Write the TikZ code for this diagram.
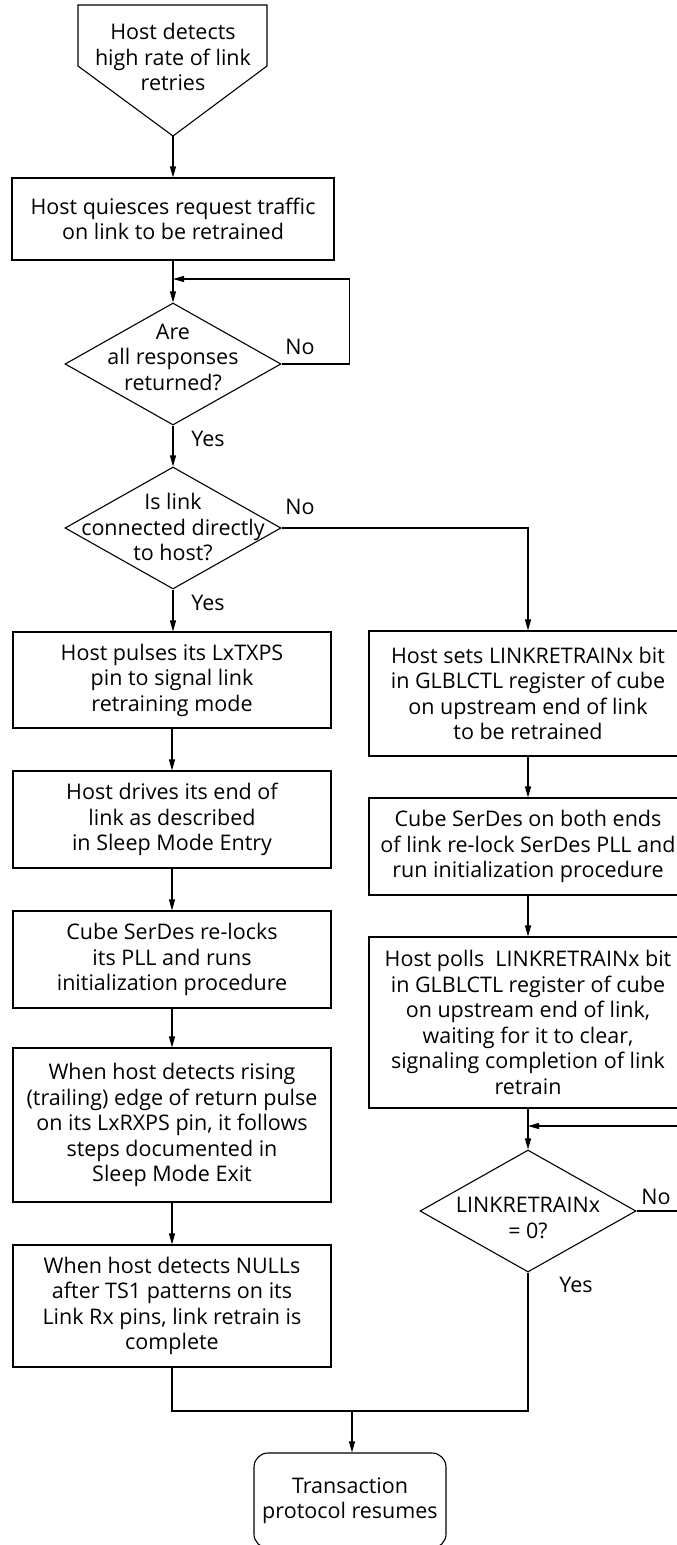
\documentclass[tikz,border=0pt]{standalone}
\usepackage{fontspec}
\setmainfont{Open Sans}
\usetikzlibrary{shapes.geometric,arrows.meta,calc}

\begin{document}
\begin{tikzpicture}[x=1pt,y=-1pt,
  line width=1.1pt,
  every node/.style={font=\fontsize{21.5}{25.5}\selectfont},
  stepbox/.style={draw, rectangle, minimum width=318pt, align=center, inner sep=0pt},
  decision/.style={draw, diamond, minimum width=216pt, minimum height=122pt, inner sep=0pt},
  txt/.style={align=center, inner sep=0pt},
  lbl/.style={inner sep=0pt},
  arr/.style={-{Triangle[length=11pt,width=6pt]}},
]
\useasboundingbox (0,0) rectangle (677,1545);
\clip (0,0) rectangle (677,1545);

% start symbol (off-page connector shape)
\coordinate (tip) at (173,136);
\draw (78,5) -- (267,5) -- (267,66) -- (tip) -- (78,66) -- cycle;
\node[txt] (start) at (173,57) {Host detects\\high rate of link\\retries};

\node[stepbox, minimum width=322pt, minimum height=82pt] (quiesce) at (173,219)
  {Host quiesces request traffic\\on link to be retrained};

% decision: all responses returned
\node[decision] (ret) at (173,364) {};
\node[txt] (rettxt) at (173,357) {Are\\all responses\\returned?};

% decision: direct link
\node[decision] (direct) at (173,528) {};
\node[txt] (directtxt) at (173,527) {Is link\\connected directly\\to host?};

% left column
\node[stepbox, minimum height=96pt] (pulses) at (172,680)
  {Host pulses its LxTXPS\\pin to signal link\\retraining mode};
\node[stepbox, minimum height=97pt] (drives) at (172,819.5)
  {Host drives its end of\\link as described\\in Sleep Mode Entry};
\node[stepbox, minimum height=97pt] (relock) at (172,959.5)
  {Cube SerDes re-locks\\its PLL and runs\\initialization procedure};
\node[stepbox, minimum height=154pt] (rising) at (172,1125)
  {When host detects rising\\(trailing) edge of return pulse\\on its LxRXPS pin, it follows\\steps documented in\\Sleep Mode Exit};
\node[stepbox, minimum height=122pt] (nulls) at (172,1306)
  {When host detects NULLs\\after TS1 patterns on its\\Link Rx pins, link retrain is\\complete};

% right column
\node[stepbox, minimum height=125pt] (sets) at (528,693.5)
  {Host sets LINKRETRAINx bit\\in GLBLCTL register of cube\\on upstream end of link\\to be retrained};
\node[stepbox, minimum height=97pt] (both) at (528,846.5)
  {Cube SerDes on both ends\\of link re-lock SerDes PLL and\\run initialization procedure};
\node[stepbox, minimum height=171pt] (polls) at (528,1022.5)
  {Host polls~ LINKRETRAINx bit\\in GLBLCTL register of cube\\on upstream end of link,\\waiting for it to clear,\\signaling completion of link\\retrain};

\node[decision] (zero) at (528,1211) {};
\node[txt] (zerotxt) at (528,1218) {LINKRETRAINx\\= 0?};

% terminal
\node[draw, rounded corners=14pt, minimum width=192pt, minimum height=95pt,
      align=center, inner sep=0pt] (resume) at (350,1500.5)
  {Transaction\\protocol resumes};

% branch labels
\node[lbl] (l1no) at (300,347) {No};
\node[lbl] (l1yes) at (208,439) {Yes};
\node[lbl] (l2no) at (300,507) {No};
\node[lbl] (l2yes) at (208,603) {Yes};
\node[lbl] (l3no) at (656,1197) {No};
\node[lbl] (l3yes) at (576,1285) {Yes};

% connectors
\coordinate (j1) at (173,279);
\coordinate (j3) at (528,1126);
\coordinate (m) at (352,1411);

\draw[arr] (tip) -- (quiesce);
\draw[arr] (quiesce) -- (ret);
\draw[arr] (ret.east) -- ++(68,0) |- (j1);
\draw[arr] (ret) -- (direct);
\draw[arr] (direct.south) -- (direct.south |- pulses.north);
\draw[arr] (direct.east) -| (sets.north);
\draw[arr] (pulses) -- (drives);
\draw[arr] (drives) -- (relock);
\draw[arr] (relock) -- (rising);
\draw[arr] (rising) -- (nulls);
\draw[arr] (sets) -- (both);
\draw[arr] (both) -- (polls);
\draw[arr] (polls) -- (zero);
\draw[arr] (zero.east) -- ++(64,0) |- (j3);
\draw (nulls.south) |- (m) -| (zero.south);
\draw[arr] (m) -- (m |- resume.north);
\end{tikzpicture}
\end{document}
